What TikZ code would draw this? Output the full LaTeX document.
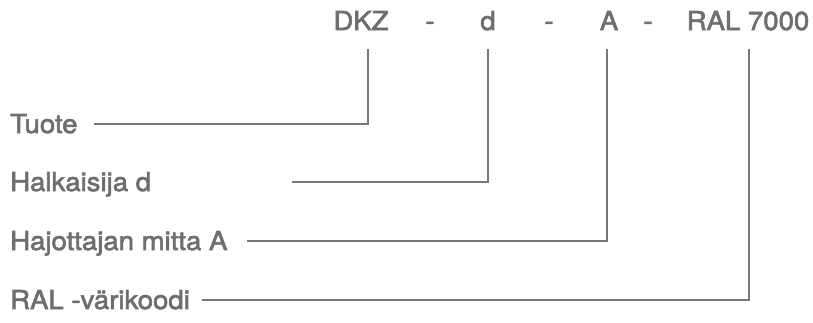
\documentclass[tikz,border=0pt]{standalone}
\usepackage{fontspec}
\setmainfont[FakeStretch=1.06,BoldFont={TeX Gyre Heros},BoldFeatures={FakeBold=2.4,FakeStretch=1.06}]{TeX Gyre Heros}
\definecolor{txtgray}{HTML}{6D6E70}
\definecolor{lngray}{HTML}{77777A}
\begin{document}
\begin{tikzpicture}[x=1pt,y=-1pt,
  lbl/.style={anchor=base west,inner sep=0pt,text=txtgray,font=\fontsize{26}{30}\selectfont\bfseries},
  code/.style={anchor=base,inner sep=0pt,text=txtgray,font=\fontsize{26}{30}\selectfont\bfseries},
  conn/.style={draw=lngray,line width=2pt,line cap=rect}]
\useasboundingbox (0,0) rectangle (813,322);
% top code
\node[code] (dkz) at (361,30) {DKZ};
\node[code] (h1) at (430,30) {-};
\node[code] (d) at (488,30) {d};
\node[code] (h2) at (549,30) {-};
\node[code] (a) at (609,30) {A};
\node[code] (h3) at (648,30) {-};
\node[code] (ral) at (748,30) {RAL 7000};
% labels
\node[lbl] (tuote) at (10,133) {Tuote};
\node[lbl] (halk) at (10,191) {Halkaisija d};
\node[lbl] (hajo) at (10,250) {Hajottajan mitta A};
\node[lbl] (ralk) at (10,309) {RAL -värikoodi};
% connector corners
\coordinate (s1) at (95,124);
\coordinate (t1) at (368,50);
\coordinate (s2) at (293,182);
\coordinate (t2) at (488,50);
\coordinate (s3) at (248,241);
\coordinate (t3) at (607,50);
\coordinate (s4) at (203,300);
\coordinate (t4) at (749,50);
\draw[conn] (s1) -| (t1);
\draw[conn] (s2) -| (t2);
\draw[conn] (s3) -| (t3);
\draw[conn] (s4) -| (t4);
\end{tikzpicture}
\end{document}
